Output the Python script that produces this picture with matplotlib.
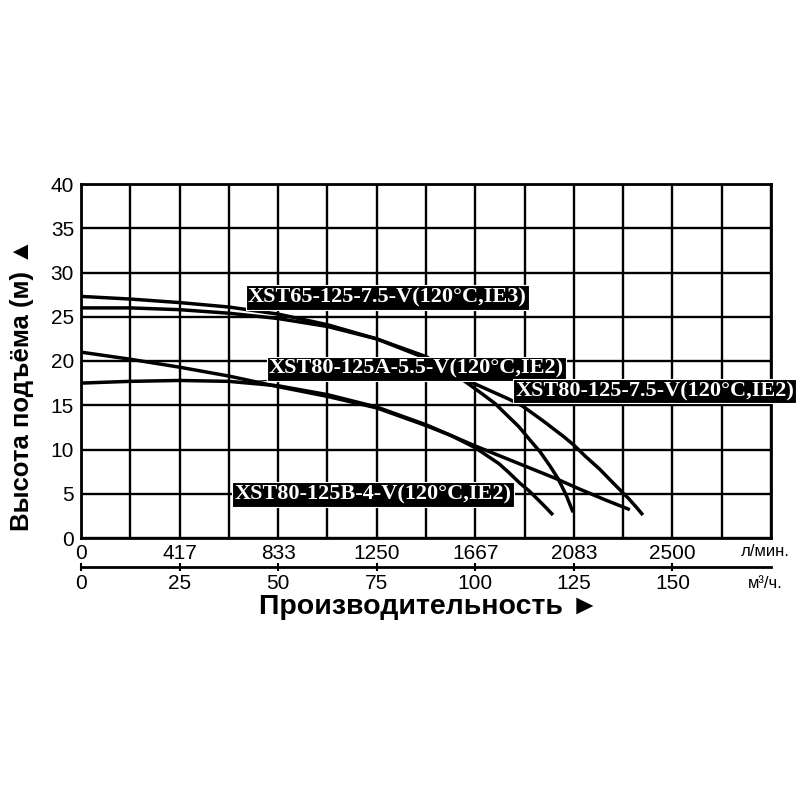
import numpy as np
import matplotlib
matplotlib.use("Agg")
import matplotlib.pyplot as plt

plt.rcParams['font.family'] = ['Liberation Sans', 'DejaVu Sans']

# axis ticks
flow_ticks = [0, 25, 50, 75, 100, 125, 150]
flow_lmin = ['0', '417', '833', '1250', '1667', '2083', '2500']
flow_m3h = ['0', '25', '50', '75', '100', '125', '150']
head_ticks = [0, 5, 10, 15, 20, 25, 30, 35, 40]

# pump curves (m3/h, m)
q_65_75 = [0, 12.5, 25, 37.5, 50, 62.5, 75, 87.5, 95, 98, 102, 105, 108, 111, 114,
           116.5, 119, 121, 123, 124.8]
h_65_75 = [27.3, 27.0, 26.6, 26.1, 25.3, 24.1, 22.5, 20.3, 18.4, 17.5, 16.2, 15.2, 13.9,
           12.6, 11.0, 9.7, 8.1, 6.7, 4.9, 2.9]

q_80_75 = [0, 12.5, 25, 37.5, 50, 62.5, 75, 87.5, 97.9, 101, 105, 108.5, 112, 117, 122.3,
           125, 128, 131.5, 135, 137, 139, 141, 142.5]
h_80_75 = [26.0, 26.0, 25.8, 25.4, 24.8, 23.9, 22.5, 20.5, 17.8, 17.2, 16.4, 15.7, 14.9,
           13.3, 11.5, 10.5, 9.2, 7.8, 6.2, 5.3, 4.4, 3.4, 2.6]

q_80a = [0, 12.5, 25, 37.5, 50, 62.5, 75, 87.5, 93.75, 100, 105, 110, 115, 120, 126.6,
         133, 139.2]
h_80a = [21.0, 20.2, 19.3, 18.3, 17.1, 16.0, 14.7, 12.7, 11.6, 10.4, 9.5, 8.6, 7.7, 6.8,
         5.5, 4.3, 3.2]

q_80b = [0, 6, 12.5, 25, 37.5, 50, 62.5, 75, 87.5, 93.75, 100, 103, 106, 108.5, 111.3,
         113.7, 116, 118, 119.7]
h_80b = [17.5, 17.6, 17.7, 17.8, 17.7, 17.2, 16.2, 14.8, 12.8, 11.6, 10.2, 9.3, 8.4, 7.4,
         6.2, 5.3, 4.3, 3.4, 2.6]

labels = ['XST65-125-7.5-V(120°C,IE3)', 'XST80-125A-5.5-V(120°C,IE2)',
          'XST80-125-7.5-V(120°C,IE2)', 'XST80-125B-4-V(120°C,IE2)']
label_pos = [(77.7, 27.2), (85.1, 19.1), (145.5, 16.6), (74.1, 4.9)]

fig = plt.figure(figsize=(8, 8), dpi=100)
ax = fig.add_axes([81/800, 1 - 538/800, 690/800, 354/800])

for q, h in [(q_65_75, h_65_75), (q_80_75, h_80_75), (q_80a, h_80a), (q_80b, h_80b)]:
    ax.plot(q, h, color='black', lw=2.5, solid_capstyle='butt',
            solid_joinstyle='round', zorder=3)

ax.set_xlim(0, 175)
ax.set_ylim(0, 40)
ax.set_xticks(flow_ticks)
ax.set_xticklabels(flow_lmin)
ax.set_xticks(np.arange(0, 175.1, 12.5), minor=True)
ax.set_yticks(head_ticks)
ax.set_yticklabels([str(t) for t in head_ticks])
ax.grid(which='both', color='black', lw=1.7)
ax.tick_params(which='both', length=0, labelsize=15)
ax.tick_params(axis='x', pad=4)
ax.tick_params(axis='y', pad=5)
for s in ax.spines.values():
    s.set_linewidth(2)

for i, (txt, (x, y)) in enumerate(zip(labels, label_pos)):
    box = dict(boxstyle='square,pad=0.1', fc='black', ec='white', lw=0.8)
    if i == 1:
        ax.annotate(txt, xy=(44, 17.7), xytext=(x, y), ha='center', va='center',
                    color='white', fontsize=16, fontweight='bold',
                    family=['Liberation Serif', 'DejaVu Serif'], bbox=box,
                    arrowprops=dict(arrowstyle='-', color='black', lw=0.8,
                                    shrinkA=0, shrinkB=0), zorder=5)
    else:
        ax.text(x, y, txt, ha='center', va='center', color='white',
                fontsize=16, fontweight='bold',
                family=['Liberation Serif', 'DejaVu Serif'], bbox=box,
                clip_on=False, zorder=5)

# second flow axis in m3/h
sec = ax.secondary_xaxis(-0.082)
sec.set_xticks(flow_ticks)
sec.set_xticklabels(flow_m3h)
sec.tick_params(direction='inout', length=6, width=1.5, labelsize=15, pad=2)
sec.spines['bottom'].set_linewidth(2)

fig.text(765/800, 1 - 551/800, 'л/мин.', ha='center', va='center', fontsize=12)
fig.text(765/800, 1 - 583/800, 'м³/ч.', ha='center', va='center', fontsize=12)

fig.text(429/800, 1 - 607/800, 'Производительность ►', ha='center', va='center',
         fontsize=20.5, fontweight='bold')
fig.text(22/800, 1 - 385/800, 'Высота подъёма (м) ▲', ha='center', va='center',
         rotation=90, fontsize=18.5, fontweight='bold')

fig.savefig('out.png', dpi=100)
